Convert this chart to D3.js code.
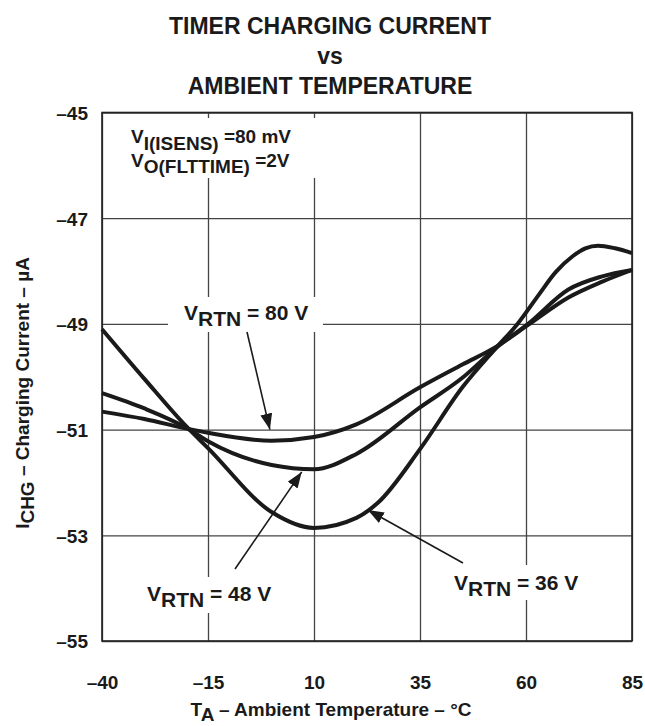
<!DOCTYPE html>
<html>
<head>
<meta charset="utf-8">
<script src="https://cdn.jsdelivr.net/npm/d3@7"></script>
<style>
  body { margin: 0; background: #fff; }
  text { font-family: "Liberation Sans", Arial, Helvetica, sans-serif; font-weight: bold; fill: #1a1a1a; }
</style>
</head>
<body>
<div id="chart"></div>
<script>
// values: temperature (deg C) and charging current (uA)
var t36 = [-40, -30, -20, -15, 0, 10, 20, 25, 35, 45, 53, 58, 63, 67, 71, 74, 77, 81, 85];
var i36 = [-49.10, -50.04, -50.95, -51.35, -52.56, -52.86, -52.67, -52.39, -51.37, -50.20, -49.45, -49.00, -48.45, -48.02, -47.72, -47.57, -47.52, -47.57, -47.66];
var t48 = [-40, -30, -20, -15, 0, 10, 20, 35, 45, 53, 60.5, 70, 78, 85];
var i48 = [-50.31, -50.60, -50.97, -51.22, -51.67, -51.75, -51.46, -50.58, -50.02, -49.45, -49.00, -48.35, -48.10, -47.98];
var t80 = [-40, -30, -20, -15, 0, 10, 20, 35, 45, 53, 60.5, 70, 78, 85];
var i80 = [-50.66, -50.80, -50.98, -51.06, -51.21, -51.14, -50.90, -50.20, -49.77, -49.43, -49.02, -48.50, -48.20, -47.98];

var xTicks = [-40, -15, 10, 35, 60, 85];
var yTicks = [-45, -47, -49, -51, -53, -55];

var svgWidth = 645, svgHeight = 726;
var margin = { top: 112.5, right: 13, bottom: 85, left: 102 };
var width = svgWidth - margin.left - margin.right;
var height = svgHeight - margin.top - margin.bottom;

var svg = d3.select("#chart").append("svg")
    .attr("width", svgWidth)
    .attr("height", svgHeight);

var chartGroup = svg.append("g")
    .attr("transform", `translate(${margin.left}, ${margin.top})`);

var xScale = d3.scaleLinear().domain([-40, 85]).range([0, width]);
var yScale = d3.scaleLinear().domain([-55, -45]).range([height, 0]);

// grid lines come from the axes (ticks stretched across the plot)
var dash = d => String(d).replace("-", "\u2013");
var xAxis = d3.axisBottom(xScale).tickValues(xTicks).tickSize(-height).tickFormat(dash).tickPadding(35);
var yAxis = d3.axisLeft(yScale).tickValues(yTicks).tickSize(-width).tickFormat(dash).tickPadding(14);

var gx = chartGroup.append("g").attr("transform", `translate(0, ${height})`).call(xAxis);
var gy = chartGroup.append("g").call(yAxis);
[gx, gy].forEach(g => {
  g.select(".domain").remove();
  g.selectAll("line").attr("stroke", "#444").attr("stroke-width", 1.3);
  g.selectAll("text").style("font-size", "19px").attr("fill", "#1a1a1a");
});
gy.selectAll("text").attr("dy", "0.36em");
gx.selectAll("text").attr("dy", "0.71em");

chartGroup.append("rect")
    .attr("width", width).attr("height", height)
    .attr("fill", "none").attr("stroke", "#222").attr("stroke-width", 1.6);

// white boxes behind the notes cut the grid lines
var boxes = [[120, 118, 200, 60], [168, 297, 155, 35], [140, 577, 138, 36], [448, 565, 137, 35]];
svg.selectAll("rect.box").data(boxes).enter().append("rect")
    .attr("class", "box")
    .attr("x", d => d[0]).attr("y", d => d[1])
    .attr("width", d => d[2]).attr("height", d => d[3])
    .attr("fill", "#fff");

// curves
var line = d3.line()
    .x(d => xScale(d[0]))
    .y(d => yScale(d[1]))
    .curve(d3.curveMonotoneX);

[[t36, i36], [t48, i48], [t80, i80]].forEach(s => {
  chartGroup.append("path")
    .datum(s[0].map((t, i) => [t, s[1][i]]))
    .attr("d", line)
    .attr("fill", "none")
    .attr("stroke", "#1a1a1a")
    .attr("stroke-width", 4);
});

// arrow heads
svg.append("defs").append("marker")
    .attr("id", "arr")
    .attr("viewBox", "0 0 16 12")
    .attr("refX", 16).attr("refY", 6)
    .attr("markerWidth", 16).attr("markerHeight", 12)
    .attr("markerUnits", "userSpaceOnUse")
    .attr("orient", "auto")
  .append("path").attr("d", "M0,0 L16,6 L0,12 Z").attr("fill", "#1a1a1a");

// notes: label value, text position, arrow start (px) and arrow tip (data)
var notes = [
  { v: "80", x: 184, y: 320, from: [247, 332], to: [-0.4, -51.0] },
  { v: "48", x: 147, y: 601, from: [235, 569], to: [7.1, -51.8] },
  { v: "36", x: 454, y: 590, from: [463, 563], to: [22.7, -52.52] }
];
notes.forEach(n => {
  svg.append("line")
    .attr("x1", n.from[0]).attr("y1", n.from[1])
    .attr("x2", margin.left + xScale(n.to[0])).attr("y2", margin.top + yScale(n.to[1]))
    .attr("stroke", "#1a1a1a").attr("stroke-width", 1.6)
    .attr("marker-end", "url(#arr)");
  var t = svg.append("text").attr("x", n.x).attr("y", n.y).style("font-size", "21px");
  t.append("tspan").text("V");
  t.append("tspan").attr("dy", 6).text("RTN");
  t.append("tspan").attr("dy", -6).text(" = " + n.v + " V");
});

// conditions note
var c1 = svg.append("text").attr("x", 131).attr("y", 143).style("font-size", "19px");
c1.append("tspan").text("V");
c1.append("tspan").attr("dy", 7).text("I(ISENS)");
c1.append("tspan").attr("dy", -7).text(" =80 mV");
var c2 = svg.append("text").attr("x", 131).attr("y", 167).style("font-size", "19px");
c2.append("tspan").text("V");
c2.append("tspan").attr("dy", 6).text("O(FLTTIME)");
c2.append("tspan").attr("dy", -6).text(" =2V");

// titles
var titles = ["TIMER CHARGING CURRENT", "vs", "AMBIENT TEMPERATURE"];
svg.selectAll("text.title").data(titles).enter().append("text")
    .attr("class", "title")
    .attr("x", 330).attr("y", (d, i) => 34 + i * 30)
    .attr("text-anchor", "middle")
    .style("font-size", "23px")
    .text(d => d);

var xt = svg.append("text").attr("x", 331).attr("y", 716)
    .attr("text-anchor", "middle").style("font-size", "19px");
xt.append("tspan").text("T");
xt.append("tspan").attr("dy", 5).text("A");
xt.append("tspan").attr("dy", -5).text(" \u2013 Ambient Temperature \u2013 \u00B0C");

var yt = svg.append("text")
    .attr("transform", "translate(29, 393) rotate(-90)")
    .attr("text-anchor", "middle").style("font-size", "19px");
yt.append("tspan").text("I");
yt.append("tspan").attr("dy", 5).text("CHG");
yt.append("tspan").attr("dy", -5).text(" \u2013 Charging Current \u2013 \u00B5A");
</script>
</body>
</html>
